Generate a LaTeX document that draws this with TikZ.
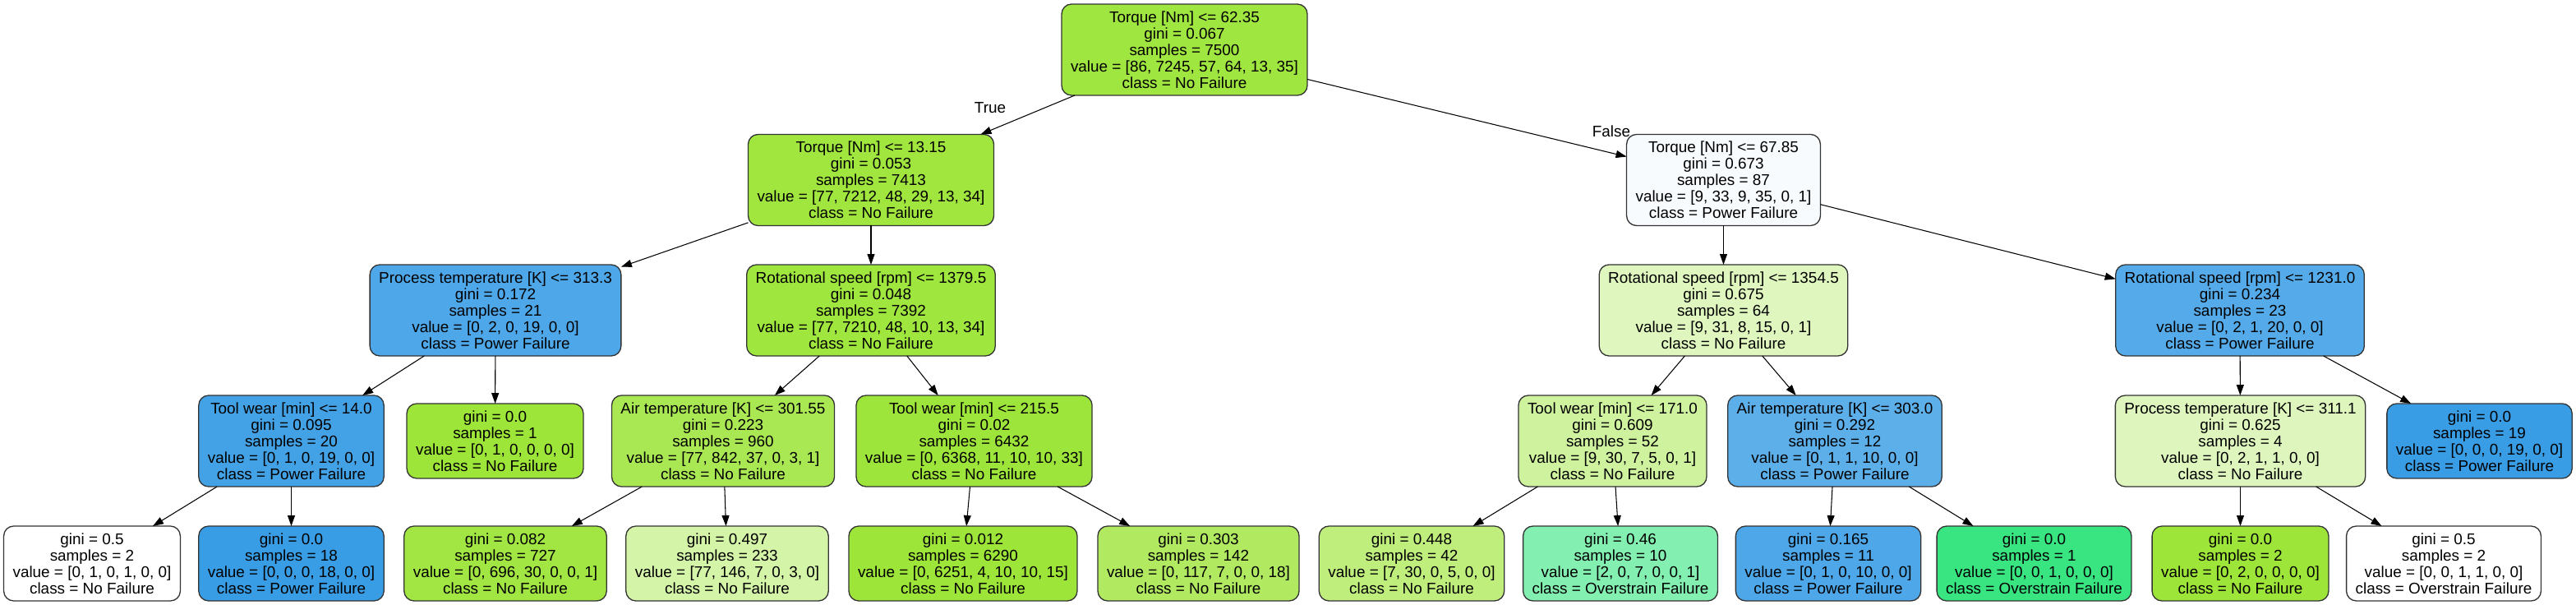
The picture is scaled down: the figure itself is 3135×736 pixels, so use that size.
\documentclass[tikz,border=0pt]{standalone}
\usepackage{fontspec}
\setmainfont{Liberation Sans}
\usepackage{tikz}
\usetikzlibrary{arrows.meta}
\usepackage{xcolor}
% class colours (pure)
\definecolor{nofail}{RGB}{157,229,57}
\definecolor{overstrain}{RGB}{57,229,129}
\definecolor{power}{RGB}{57,157,229}
% split nodes
\definecolor{nofailroot}{RGB}{160,230,64}
\definecolor{nofailtq}{RGB}{160,230,62}
\definecolor{nofailspd}{RGB}{159,230,62}
\definecolor{powertq}{RGB}{248,251,254}
\definecolor{powerproc}{RGB}{78,167,232}
\definecolor{nofailrot}{RGB}{223,247,190}
\definecolor{powerrot}{RGB}{85,171,233}
\definecolor{powertool}{RGB}{67,162,230}
\definecolor{nofailair}{RGB}{170,232,83}
\definecolor{nofailtool}{RGB}{158,229,59}
\definecolor{nofailwear}{RGB}{207,242,158}
\definecolor{powerair}{RGB}{93,175,234}
\definecolor{nofailproc}{RGB}{222,246,189}
% leaves
\definecolor{nofailE}{RGB}{161,230,66}
\definecolor{nofailF}{RGB}{212,244,167}
\definecolor{nofailG}{RGB}{158,229,58}
\definecolor{nofailH}{RGB}{177,234,97}
\definecolor{nofailI}{RGB}{191,238,125}
\definecolor{overJ}{RGB}{131,239,176}
\definecolor{powerK}{RGB}{77,167,232}

\begin{document}
\begin{tikzpicture}[x=0.02cm, y=-0.02cm,
    font=\fontsize{10.76}{11.34}\selectfont,
    splitnode/.style={draw=black!80, line width=0.75pt, rounded corners=0.24cm,
      align=center, inner xsep=0.22cm, inner ysep=0pt, outer sep=0pt,
      minimum height=2.22cm},
    leafnode/.style={splitnode, minimum height=1.82cm},
    branch/.style={-{Triangle[length=0.26cm,width=0.18cm]}, line width=0.6pt}]
  \fill[white] (0,0) rectangle (3135,736);

  % Depth 0
  \node[splitnode, fill=nofailroot] (root) at (1441.5,60.5)
    {Torque [Nm] <= 62.35\\gini = 0.067\\samples = 7500\\value = [86, 7245, 57, 64, 13, 35]\\class = No Failure};

  % Depth 1
  \node[splitnode, fill=nofailtq] (torqueA) at (1060,219)
    {Torque [Nm] <= 13.15\\gini = 0.053\\samples = 7413\\value = [77, 7212, 48, 29, 13, 34]\\class = No Failure};
  \node[splitnode, fill=powertq] (torqueB) at (2097.5,219)
    {Torque [Nm] <= 67.85\\gini = 0.673\\samples = 87\\value = [9, 33, 9, 35, 0, 1]\\class = Power Failure};

  % Depth 2
  \node[splitnode, fill=powerproc] (procA) at (603,377.5)
    {Process temperature [K] <= 313.3\\gini = 0.172\\samples = 21\\value = [0, 2, 0, 19, 0, 0]\\class = Power Failure};
  \node[splitnode, fill=nofailspd] (rotA) at (1060,377.5)
    {Rotational speed [rpm] <= 1379.5\\gini = 0.048\\samples = 7392\\value = [77, 7210, 48, 10, 13, 34]\\class = No Failure};
  \node[splitnode, fill=nofailrot] (rotB) at (2097.5,377.5)
    {Rotational speed [rpm] <= 1354.5\\gini = 0.675\\samples = 64\\value = [9, 31, 8, 15, 0, 1]\\class = No Failure};
  \node[splitnode, fill=powerrot] (rotC) at (2726,377.5)
    {Rotational speed [rpm] <= 1231.0\\gini = 0.234\\samples = 23\\value = [0, 2, 1, 20, 0, 0]\\class = Power Failure};

  % Depth 3
  \node[splitnode, fill=powertool] (toolA) at (354.5,536.5)
    {Tool wear [min] <= 14.0\\gini = 0.095\\samples = 20\\value = [0, 1, 0, 19, 0, 0]\\class = Power Failure};
  \node[leafnode, fill=nofail] (leafA) at (602.5,536.5)
    {gini = 0.0\\samples = 1\\value = [0, 1, 0, 0, 0, 0]\\class = No Failure};
  \node[splitnode, fill=nofailair] (airA) at (880,536.5)
    {Air temperature [K] <= 301.55\\gini = 0.223\\samples = 960\\value = [77, 842, 37, 0, 3, 1]\\class = No Failure};
  \node[splitnode, fill=nofailtool] (toolB) at (1185.5,536.5)
    {Tool wear [min] <= 215.5\\gini = 0.02\\samples = 6432\\value = [0, 6368, 11, 10, 10, 33]\\class = No Failure};
  \node[splitnode, fill=nofailwear] (toolC) at (1962.5,536.5)
    {Tool wear [min] <= 171.0\\gini = 0.609\\samples = 52\\value = [9, 30, 7, 5, 0, 1]\\class = No Failure};
  \node[splitnode, fill=powerair] (airB) at (2233,536.5)
    {Air temperature [K] <= 303.0\\gini = 0.292\\samples = 12\\value = [0, 1, 1, 10, 0, 0]\\class = Power Failure};
  \node[splitnode, fill=nofailproc] (procB) at (2726.5,536.5)
    {Process temperature [K] <= 311.1\\gini = 0.625\\samples = 4\\value = [0, 2, 1, 1, 0, 0]\\class = No Failure};
  \node[leafnode, fill=power] (leafB) at (3017.5,536.5)
    {gini = 0.0\\samples = 19\\value = [0, 0, 0, 19, 0, 0]\\class = Power Failure};

  % Depth 4 (leaves)
  \node[leafnode, fill=white] (leafC) at (112,685.5)
    {gini = 0.5\\samples = 2\\value = [0, 1, 0, 1, 0, 0]\\class = No Failure};
  \node[leafnode, fill=power] (leafD) at (354.5,685.5)
    {gini = 0.0\\samples = 18\\value = [0, 0, 0, 18, 0, 0]\\class = Power Failure};
  \node[leafnode, fill=nofailE] (leafE) at (615,685.5)
    {gini = 0.082\\samples = 727\\value = [0, 696, 30, 0, 0, 1]\\class = No Failure};
  \node[leafnode, fill=nofailF] (leafF) at (885,685.5)
    {gini = 0.497\\samples = 233\\value = [77, 146, 7, 0, 3, 0]\\class = No Failure};
  \node[leafnode, fill=nofailG] (leafG) at (1172,685.5)
    {gini = 0.012\\samples = 6290\\value = [0, 6251, 4, 10, 10, 15]\\class = No Failure};
  \node[leafnode, fill=nofailH] (leafH) at (1458.5,685.5)
    {gini = 0.303\\samples = 142\\value = [0, 117, 7, 0, 0, 18]\\class = No Failure};
  \node[leafnode, fill=nofailI] (leafI) at (1718,685.5)
    {gini = 0.448\\samples = 42\\value = [7, 30, 0, 5, 0, 0]\\class = No Failure};
  \node[leafnode, fill=overJ] (leafJ) at (1972,685.5)
    {gini = 0.46\\samples = 10\\value = [2, 0, 7, 0, 0, 1]\\class = Overstrain Failure};
  \node[leafnode, fill=powerK] (leafK) at (2225,685.5)
    {gini = 0.165\\samples = 11\\value = [0, 1, 0, 10, 0, 0]\\class = Power Failure};
  \node[leafnode, fill=overstrain] (leafL) at (2475.5,685.5)
    {gini = 0.0\\samples = 1\\value = [0, 0, 1, 0, 0, 0]\\class = Overstrain Failure};
  \node[leafnode, fill=nofail] (leafM) at (2726.5,685.5)
    {gini = 0.0\\samples = 2\\value = [0, 2, 0, 0, 0, 0]\\class = No Failure};
  \node[leafnode, fill=white] (leafN) at (2974,685.5)
    {gini = 0.5\\samples = 2\\value = [0, 0, 1, 1, 0, 0]\\class = Overstrain Failure};

  % Branches
  \foreach \a/\b in {root/torqueA, root/torqueB,
      torqueA/procA, torqueA/rotA, torqueB/rotB, torqueB/rotC,
      procA/toolA, procA/leafA, rotA/airA, rotA/toolB,
      rotB/toolC, rotB/airB, rotC/procB, rotC/leafB,
      toolA/leafC, toolA/leafD, airA/leafE, airA/leafF,
      toolB/leafG, toolB/leafH, toolC/leafI, toolC/leafJ,
      airB/leafK, airB/leafL, procB/leafM, procB/leafN}{
    \draw[branch] (\a) -- (\b);
  }

  % Split labels
  \node (truelbl) at (1205,131) {True};
  \node (falselbl) at (1961,160) {False};
\end{tikzpicture}
\end{document}
